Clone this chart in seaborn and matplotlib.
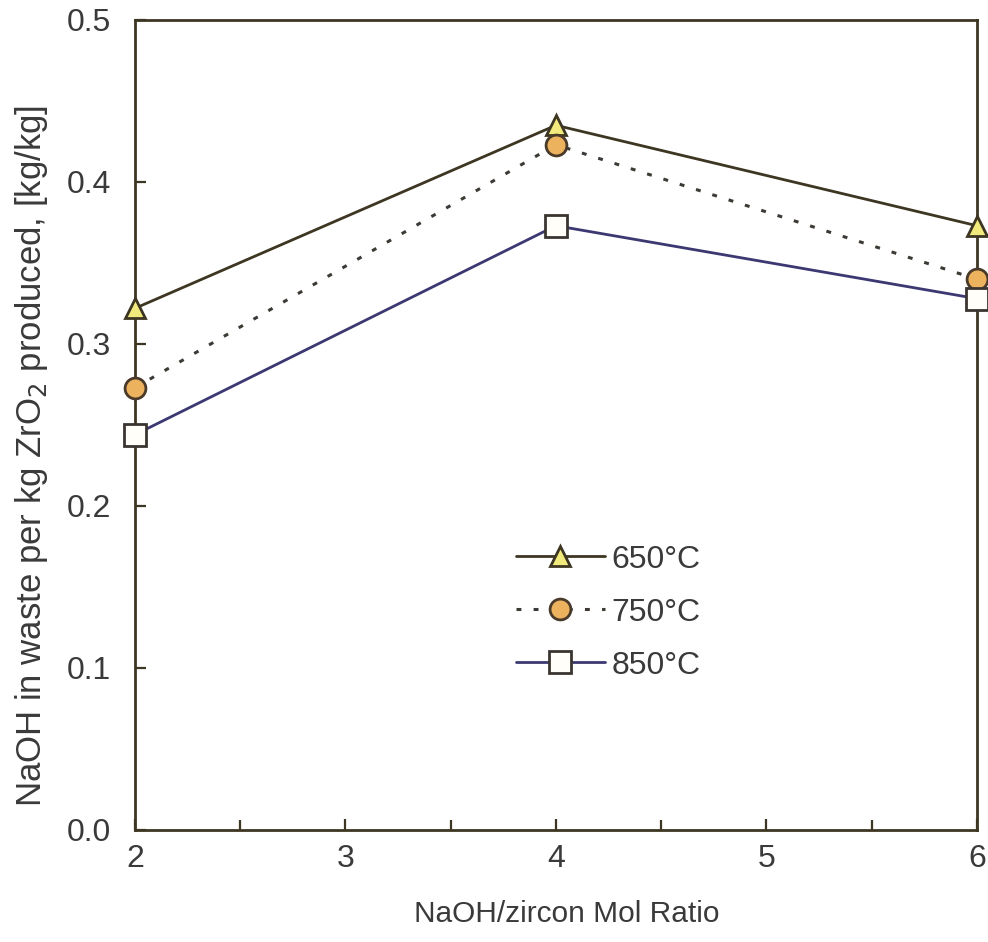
import matplotlib
matplotlib.use("Agg")
import matplotlib.pyplot as plt
import seaborn as sns
import pandas as pd
from matplotlib.ticker import MultipleLocator

ratio = [2, 4, 6]
t650 = [0.322, 0.435, 0.373]
t750 = [0.273, 0.423, 0.340]
t850 = [0.244, 0.373, 0.328]
labels = ["650°C", "750°C", "850°C"]

sns.set_theme(style="white")
plt.rcParams['font.family'] = ['Liberation Sans', 'DejaVu Sans']
txt = "#3a3a3a"

fig = plt.figure(figsize=(9.88, 9.42), dpi=100)
ax = fig.add_axes([0.1366, 0.1189, 0.8522, 0.8599])

styles = [
    dict(color="#3d3622", marker="^", mfc="#f2ea7c", mec="#3d3622", ms=14, ls="-", lw=2.0),
    dict(color="#3d3a36", marker="o", mfc="#ecb25e", mec="#4a3a2a", ms=15, ls=(0, (1.6, 4.0)), lw=2.2),
    dict(color="#3b3872", marker="s", mfc="#fffef8", mec="#3a3530", ms=16, ls="-", lw=2.0),
]
for vals, lab, st in zip([t650, t750, t850], labels, styles):
    df = pd.DataFrame({"x": ratio, "y": vals})
    sns.lineplot(data=df, x="x", y="y", ax=ax, label=lab, color=st["color"],
                 marker=st["marker"], markerfacecolor=st["mfc"], markeredgecolor=st["mec"],
                 markeredgewidth=2.0, markersize=st["ms"], linestyle=st["ls"], linewidth=st["lw"],
                 clip_on=False, zorder=3)

ax.set_xlim(2, 6)
ax.set_ylim(0, 0.5)
ax.xaxis.set_major_locator(MultipleLocator(1))
ax.xaxis.set_minor_locator(MultipleLocator(0.5))
ax.set_yticks([0, 0.1, 0.2, 0.3, 0.4, 0.5])
ax.set_yticklabels(["0.0", "0.1", "0.2", "0.3", "0.4", "0.5"])
ax.tick_params(which="both", direction="in", color="#3d3622", width=1.6, labelsize=23,
               labelcolor=txt, top=False, right=False, bottom=True, left=True)
ax.tick_params(which="major", length=8)
ax.tick_params(axis="y", which="major", pad=17)
ax.tick_params(axis="x", which="major", pad=10)
ax.tick_params(axis="x", which="minor", length=7)
ax.tick_params(axis="y", which="minor", length=0)
for s in ax.spines.values():
    s.set_color("#3d3622")
    s.set_linewidth(2.0)
    s.set_visible(True)

ax.set_xlabel("NaOH/zircon Mol Ratio", fontsize=21.5, color=txt)
ax.xaxis.set_label_coords(0.513, -0.086)
ax.set_ylabel("NaOH in waste per kg ZrO$_2$ produced, [kg/kg]", fontsize=25, color=txt)
ax.yaxis.set_label_coords(-0.101, 0.462)

leg = ax.legend(loc="upper left", bbox_to_anchor=(0.433, 0.372), frameon=False, fontsize=23,
                handlelength=2.8, handletextpad=0.2, labelspacing=0.72, borderpad=0)
for t in leg.get_texts():
    t.set_color(txt)

fig.savefig("out.png", dpi=100, facecolor="white")
